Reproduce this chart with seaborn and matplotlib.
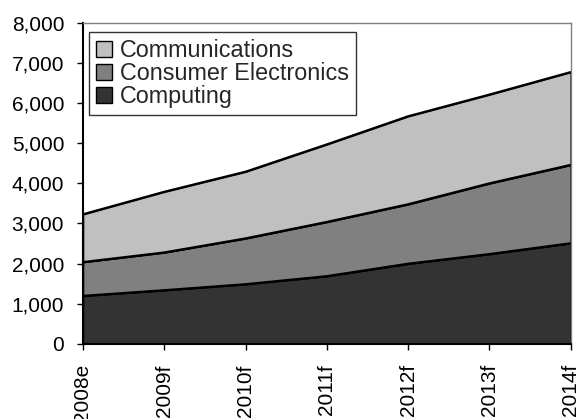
import numpy as np
import pandas as pd
import matplotlib
matplotlib.use("Agg")
import matplotlib.pyplot as plt
from matplotlib.patches import Patch
import seaborn as sns

years = ["2008e", "2009f", "2010f", "2011f", "2012f", "2013f", "2014f"]
computing = [1200, 1340, 1490, 1690, 2000, 2240, 2510]
consumer_electronics = [840, 940, 1140, 1350, 1480, 1760, 1950]
communications = [1190, 1510, 1660, 1930, 2190, 2210, 2310]

series_names = ["Computing", "Consumer Electronics", "Communications"]
series_colors = ["#333333", "#808080", "#c0c0c0"]
y_ticks = [0, 1000, 2000, 3000, 4000, 5000, 6000, 7000, 8000]

sns.set_style("white")
plt.rcParams["font.family"] = ["Liberation Sans", "DejaVu Sans"]

df = pd.DataFrame({
    "year": years,
    "Computing": computing,
    "Consumer Electronics": consumer_electronics,
    "Communications": communications,
})
x = np.arange(len(years))
stack = df[series_names].cumsum(axis=1)

fig = plt.figure(figsize=(5.8, 4.19), dpi=100)
ax = fig.add_axes([0.143, 0.179, 0.841, 0.767])

ax.stackplot(x, *[df[n] for n in series_names], colors=series_colors,
             edgecolor="black", linewidth=1.2)

long = stack.assign(pos=x).melt(id_vars="pos", var_name="series", value_name="total")
sns.lineplot(data=long, x="pos", y="total", units="series", estimator=None,
             color="black", linewidth=1.5, ax=ax, legend=False)

ax.set_xlim(0, len(years) - 1)
ax.set_ylim(0, 8000)
ax.set_xticks(x)
ax.set_xticklabels(years, rotation=90, fontsize=15)
ax.set_yticks(y_ticks)
ax.set_yticklabels([f"{v:,}" for v in y_ticks], fontsize=15)
ax.set_xlabel("")
ax.set_ylabel("")
ax.tick_params(axis="both", direction="out", length=4.5, width=1, colors="black",
               left=True, bottom=True)
ax.tick_params(axis="y", pad=9)
ax.tick_params(axis="x", pad=10)

for side in ("top", "right"):
    ax.spines[side].set_color("#808080")
    ax.spines[side].set_linewidth(1)
for side in ("left", "bottom"):
    ax.spines[side].set_color("black")
    ax.spines[side].set_linewidth(1.5)

handles = [Patch(facecolor=c, edgecolor="black", linewidth=1) for c in series_colors[::-1]]
leg = ax.legend(handles, series_names[::-1], loc="upper left",
                bbox_to_anchor=(0.012, 0.971), borderaxespad=0, fontsize=16.8,
                frameon=True, fancybox=False, edgecolor="black",
                handlelength=0.7, handleheight=0.7, handletextpad=0.35,
                labelspacing=0.0, borderpad=0.3)
leg.get_frame().set_linewidth(1)

fig.savefig("out.png", dpi=100)
